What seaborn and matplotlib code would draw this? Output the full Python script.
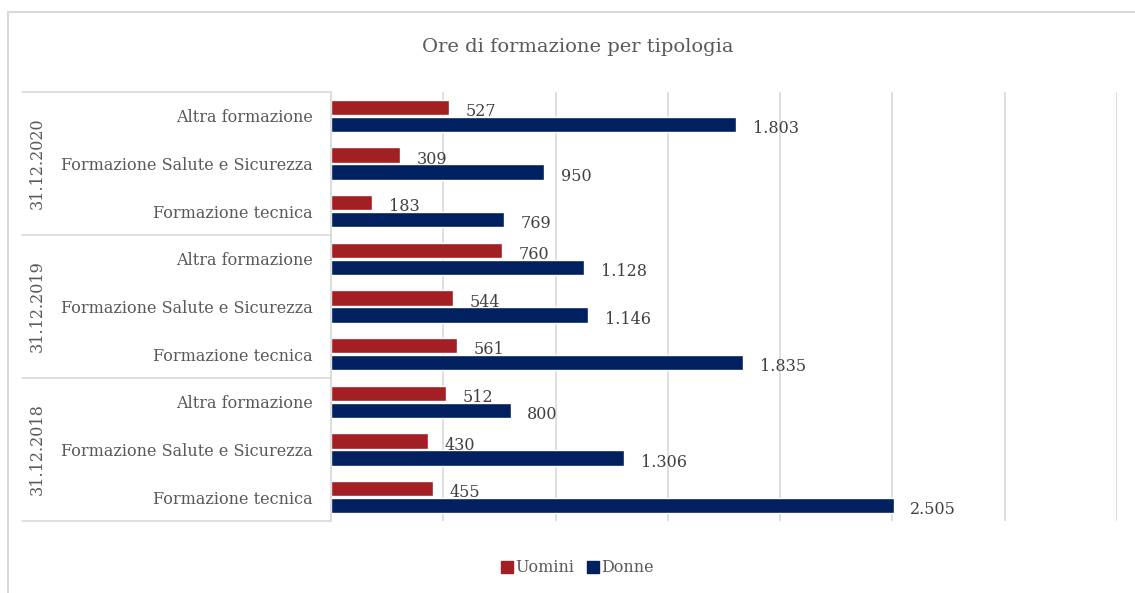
import seaborn as sns
import matplotlib.pyplot as plt
import pandas as pd
from matplotlib.patches import Rectangle
from matplotlib.lines import Line2D
from matplotlib.transforms import blended_transform_factory

anni = ['31.12.2020', '31.12.2019', '31.12.2018']
categorie = ['Altra formazione', 'Formazione Salute e Sicurezza', 'Formazione tecnica']
generi = ['Uomini', 'Donne']

# valori per anno, nell'ordine delle categorie
uomini = {'31.12.2020': [527, 309, 183],
          '31.12.2019': [760, 544, 561],
          '31.12.2018': [512, 430, 455]}
donne = {'31.12.2020': [1803, 950, 769],
         '31.12.2019': [1128, 1146, 1835],
         '31.12.2018': [800, 1306, 2505]}

rows = []
for a in anni:
    for i, c in enumerate(categorie):
        rows.append({'riga': a + '|' + c, 'genere': 'Uomini', 'ore': uomini[a][i]})
        rows.append({'riga': a + '|' + c, 'genere': 'Donne', 'ore': donne[a][i]})
df = pd.DataFrame(rows)
ordine = [a + '|' + c for a in anni for c in categorie]

sns.set_style('white')
plt.rcParams['font.family'] = ['DejaVu Serif']

grey = '#595959'
red = '#A21F23'
navy = '#002060'
line = '#D9D9D9'

fig = plt.figure(figsize=(11.35, 5.93), dpi=100)
ax = fig.add_axes([331/1135, 1 - 521/593, 786/1135, 429/593])

sns.barplot(data=df, y='riga', x='ore', hue='genere', order=ordine,
            hue_order=generi, palette=[red, navy], orient='h', saturation=1,
            width=0.72, gap=0.1, ax=ax, legend=False)

ax.set_xlim(0, 3500)
ax.set_xticks(range(0, 3501, 500))
ax.xaxis.grid(True, color=line, lw=1.2)
ax.set_axisbelow(True)
ax.tick_params(axis='x', length=0, labelbottom=False)
ax.tick_params(axis='y', length=0, pad=13, labelcolor=grey, labelsize=11.5)
ax.set_yticks(range(len(ordine)))
ax.set_yticklabels([r.split('|')[1] for r in ordine])
ax.set_xlabel('')
ax.set_ylabel('')
for s in ['top', 'right', 'bottom']:
    ax.spines[s].set_visible(False)
ax.spines['left'].set_color(line)
ax.spines['left'].set_linewidth(1.2)

# etichette valori
for cont in ax.containers:
    for b in cont:
        w = b.get_width()
        yc = b.get_y() + b.get_height() / 2
        txt = f'{int(w):,}'.replace(',', '.')
        ax.annotate(txt, (w, yc), xytext=(12, -3), textcoords='offset points',
                    va='center', ha='left', fontsize=11.5, color='#404040')

# asse categorie a due livelli
tr = blended_transform_factory(ax.transAxes, ax.transData)
x0 = (22 - 331) / 786
for yb in [-0.5, 2.5, 5.5, 8.5]:
    ax.add_line(Line2D([x0, 0], [yb, yb], transform=tr, color=line,
                       lw=1.2, clip_on=False))
for k, a in enumerate(anni):
    ax.text((37 - 331) / 786, 3 * k + 1, a, transform=tr, rotation=90,
            ha='center', va='center', fontsize=11.5, color=grey)

fig.text(578/1135, 1 - 47/593, 'Ore di formazione per tipologia',
         ha='center', va='center', fontsize=14, color=grey)

handles = [Line2D([], [], marker='s', ls='', color=red, markersize=8),
           Line2D([], [], marker='s', ls='', color=navy, markersize=8)]
fig.legend(handles, generi, loc='center', bbox_to_anchor=(578/1135, 1 - 568/593),
           ncol=2, frameon=False, handlelength=0.6, handletextpad=0.2,
           columnspacing=0.9, fontsize=11.5, labelcolor=grey)

fig.patches.append(Rectangle((8/1135, -0.1), 1130/1135, 1.1 - 12/593,
                             transform=fig.transFigure, fill=False,
                             ec=line, lw=1.5))

fig.savefig('out.png', dpi=100)
